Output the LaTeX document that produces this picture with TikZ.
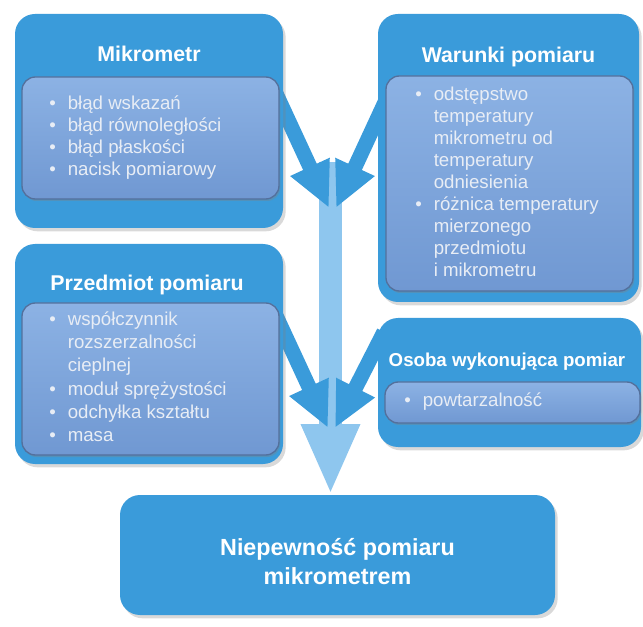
\documentclass[tikz,border=0pt]{standalone}
\usepackage{fontspec}
\setmainfont{Liberation Sans}
\usetikzlibrary{arrows.meta,shadows,backgrounds}

\definecolor{boxblue}{RGB}{58,155,218}
\definecolor{innertop}{RGB}{140,178,228}
\definecolor{innerbot}{RGB}{112,152,210}
\definecolor{inneredge}{RGB}{84,112,156}
\definecolor{shaftblue}{RGB}{142,198,238}
\definecolor{itemgray}{RGB}{232,237,245}

\newdimen\pxu \pxu=0.75pt

\begin{document}
\begin{tikzpicture}[x=0.75pt,y=-0.75pt]
  \tikzstyle{outerbox}=[rounded corners=15pt,fill=boxblue,inner sep=0pt,
    drop shadow={shadow xshift=2pt,shadow yshift=-2.5pt,opacity=0.3}]
  \tikzstyle{innerbox}=[rounded corners=10pt,top color=innertop,bottom color=innerbot,
    draw=inneredge,line width=1pt,inner sep=0pt,
    drop shadow={shadow xshift=1pt,shadow yshift=-1.5pt,opacity=0.35}]
  \tikzstyle{title}=[text=white,font=\fontsize{16}{19}\selectfont\bfseries,inner sep=0pt,anchor=base]
  \tikzstyle{items}=[text=itemgray,font=\fontsize{14}{16.5}\selectfont,inner sep=0pt,anchor=west]
  \tikzstyle{sidearrow}=[draw=boxblue,line width=11.25pt,-{Triangle[length=34pt,width=30pt]}]
  \tikzstyle{mainarrow}=[draw=shaftblue,line width=17pt,-{Triangle[length=53pt,width=40.5pt]}]
  \useasboundingbox (0,0) rectangle (643,627);
  % boxes
  \node[outerbox,minimum width=268\pxu,minimum height=214\pxu] (mik) at (149,121) {};
  \node[innerbox,minimum width=257\pxu,minimum height=122\pxu] (mikin) at (150.5,138) {};
  \node[outerbox,minimum width=261\pxu,minimum height=288\pxu] (war) at (508.5,158) {};
  \node[innerbox,minimum width=247\pxu,minimum height=215\pxu] (warin) at (509.5,183.5) {};
  \node[outerbox,minimum width=268\pxu,minimum height=220\pxu] (prz) at (149,354) {};
  \node[innerbox,minimum width=257\pxu,minimum height=152\pxu] (przin) at (150.5,379) {};
  \node[outerbox,minimum width=263\pxu,minimum height=129\pxu] (oso) at (509.5,382.5) {};
  \node[innerbox,minimum width=255\pxu,minimum height=41\pxu] (osoin) at (512.5,402.5) {};
  \node[outerbox,minimum width=435\pxu,minimum height=120\pxu] (nie) at (337.5,555) {};
  % titles
  \node[title] (mikT) at (149,62) {Mikrometr};
  \node[title] (warT) at (508.5,63) {Warunki pomiaru};
  \node[title] (przT) at (147,291) {Przedmiot pomiaru};
  \node[title,font=\fontsize{14}{17}\selectfont\bfseries] (osoT) at (507,367) {Osoba wykonująca pomiar};
  \node[text=white,font=\fontsize{17.5}{21.75}\selectfont\bfseries,align=center,inner sep=0pt]
    (nieT) at (337.5,562) {Niepewność pomiaru\\mikrometrem};
  % lists
  \node[items] (mikL) at (49,138) {\begin{tabular}{@{}l@{\hspace{9pt}}l@{}}
    \textbullet & błąd wskazań\\
    \textbullet & błąd równoległości\\
    \textbullet & błąd płaskości\\
    \textbullet & nacisk pomiarowy
  \end{tabular}};
  \node[items] (warL) at (415,184) {\begin{tabular}{@{}l@{\hspace{9pt}}l@{}}
    \textbullet & odstępstwo\\
    & temperatury\\
    & mikrometru od\\
    & temperatury\\
    & odniesienia\\
    \textbullet & różnica temperatury\\
    & mierzonego\\
    & przedmiotu\\
    & i mikrometru
  \end{tabular}};
  \node[items,font=\fontsize{14}{17.5}\selectfont] (przL) at (49,379) {\begin{tabular}{@{}l@{\hspace{9pt}}l@{}}
    \textbullet & współczynnik\\
    & rozszerzalności\\
    & cieplnej\\
    \textbullet & moduł sprężystości\\
    \textbullet & odchyłka kształtu\\
    \textbullet & masa
  \end{tabular}};
  \node[items] (osoL) at (404,402.5) {\begin{tabular}{@{}l@{\hspace{9pt}}l@{}}
    \textbullet & powtarzalność
  \end{tabular}};
  % arrows
  \coordinate (top) at (330.5,162);
  \coordinate (mikOut) at (266,72);
  \coordinate (warOut) at (399,72);
  \coordinate (przOut) at (265,292);
  \coordinate (osoOut) at (384,332);
  \coordinate (jML) at (329,208);
  \coordinate (jMR) at (336,208);
  \coordinate (jPL) at (328,428);
  \coordinate (jPR) at (335,428);
  \begin{scope}[on background layer]
    \draw[mainarrow] (top) -- (top |- nie.north);
    \draw[sidearrow] (mikOut) -- (jML);
    \draw[sidearrow] (warOut) -- (jMR);
    \draw[sidearrow] (przOut) -- (jPL);
    \draw[sidearrow] (osoOut) -- (jPR);
  \end{scope}
\end{tikzpicture}
\end{document}
